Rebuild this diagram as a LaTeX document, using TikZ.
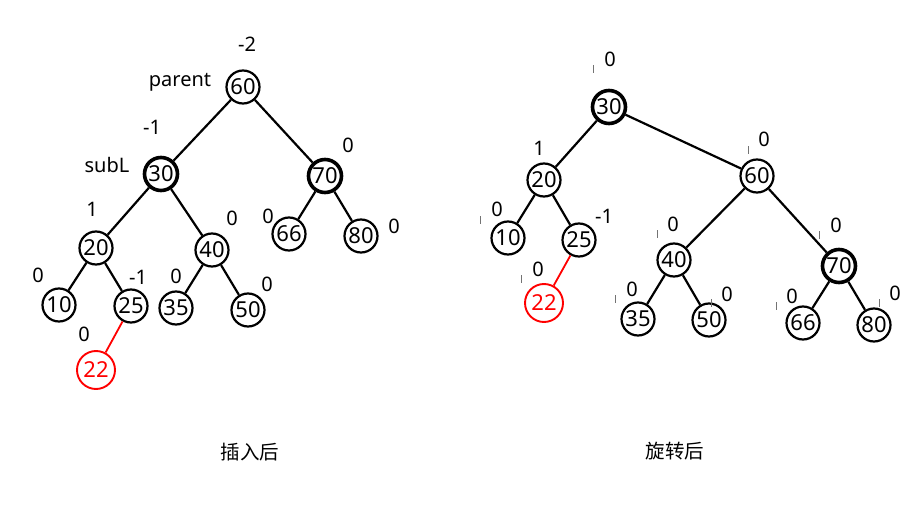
\documentclass[tikz,border=0pt]{standalone}
\usepackage{fontspec}
\setmainfont{Noto Sans}
\newfontfamily\cjk{Noto Sans CJK SC}
\begin{document}
\begin{tikzpicture}[x=1pt,y=-1pt,
  nd/.style={circle,draw,line width=2.2pt,minimum size=33pt,inner sep=0pt,font=\fontsize{22}{22}\selectfont},
  thk/.style={line width=3.6pt},
  rednd/.style={nd,draw=red,text=red,minimum size=38pt,line width=1.9pt},
  lbl/.style={font=\fontsize{20}{20}\selectfont,inner sep=0pt},
  captext/.style={font=\cjk\fontsize{19.5}{19.5}\selectfont,inner sep=0pt},
  edge/.style={line width=2.2pt},
  rededge/.style={line width=1.8pt,draw=red},
  tickmark/.style={line width=0.9pt,draw=black!55}]
\useasboundingbox (0,0) rectangle (908,511);
% ---------- left tree ----------
\node[nd] (L60) at (243,87) {60};
\node[nd,thk] (L30) at (161,174) {30};
\node[nd,thk] (L70) at (325,176) {70};
\node[nd] (L20) at (96,248) {20};
\node[nd] (L40) at (212,250) {40};
\node[nd] (L66) at (289,234) {66};
\node[nd] (L80) at (361,236) {80};
\node[nd] (L10) at (59,305) {10};
\node[nd] (L25) at (131,306) {25};
\node[nd] (L35) at (176,308) {35};
\node[nd] (L50) at (248,310) {50};
\node[rednd] (L22) at (96,370) {22};
\draw[edge] (L60) -- (L30);
\draw[edge] (L60) -- (L70);
\draw[edge] (L30) -- (L20);
\draw[edge] (L30) -- (L40);
\draw[edge] (L70) -- (L66);
\draw[edge] (L70) -- (L80);
\draw[edge] (L20) -- (L10);
\draw[edge] (L20) -- (L25);
\draw[edge] (L40) -- (L35);
\draw[edge] (L40) -- (L50);
\draw[rededge] (L25) -- (L22);
\node[lbl] (la1) at (247,44) {-2};
\node[lbl] (la2) at (180,82) {parent};
\node[lbl] (la3) at (152,127) {-1};
\node[lbl] (la4) at (348,145) {0};
\node[lbl] (la5) at (107,165) {subL};
\node[lbl] (la6) at (92,209) {1};
\node[lbl] (la7) at (232,218) {0};
\node[lbl] (la8) at (268,216) {0};
\node[lbl] (la9) at (394,226) {0};
\node[lbl] (la10) at (38,275) {0};
\node[lbl] (la11) at (138,277) {-1};
\node[lbl] (la12) at (176,276) {0};
\node[lbl] (la13) at (267,284) {0};
\node[lbl] (la14) at (84,334) {0};
\node[captext] (capL) at (250,452) {插入后};
% ---------- right tree ----------
\node[nd,thk] (R30) at (609,107) {30};
\node[nd] (R20) at (544,180) {20};
\node[nd] (R60) at (757,176) {60};
\node[nd] (R10) at (508,238) {10};
\node[nd] (R25) at (579,240) {25};
\node[rednd] (R22) at (544,303) {22};
\node[nd] (R40) at (674,260) {40};
\node[nd,thk] (R70) at (839,266) {70};
\node[nd] (R35) at (638,319) {35};
\node[nd] (R50) at (709,320) {50};
\node[nd] (R66) at (803,323) {66};
\node[nd] (R80) at (874,325) {80};
\draw[edge] (R30) -- (R20);
\draw[edge] (R30) -- (R60);
\draw[edge] (R20) -- (R10);
\draw[edge] (R20) -- (R25);
\draw[edge] (R60) -- (R40);
\draw[edge] (R60) -- (R70);
\draw[edge] (R40) -- (R35);
\draw[edge] (R40) -- (R50);
\draw[edge] (R70) -- (R66);
\draw[edge] (R70) -- (R80);
\draw[rededge] (R25) -- (R22);
\node[lbl] (ra1) at (610,59) {0};
\node[lbl] (ra2) at (539,148) {1};
\node[lbl] (ra3) at (764,139) {0};
\node[lbl] (ra4) at (497,209) {0};
\node[lbl] (ra5) at (604,216) {-1};
\node[lbl] (ra6) at (538,269) {0};
\node[lbl] (ra7) at (673,224) {0};
\node[lbl] (ra8) at (836,225) {0};
\node[lbl] (ra9) at (632,289) {0};
\node[lbl] (ra10) at (727,294) {0};
\node[lbl] (ra11) at (792,296) {0};
\node[lbl] (ra12) at (895,293) {0};
\foreach \x/\y in {593/69,748/150,480/220,521/279,657/234,819/235,615/299,711/303,776/306,879/303}
  \draw[tickmark] (\x,\y-4) -- (\x,\y+4);
\node[captext] (capR) at (675,451) {旋转后};
\end{tikzpicture}
\end{document}
